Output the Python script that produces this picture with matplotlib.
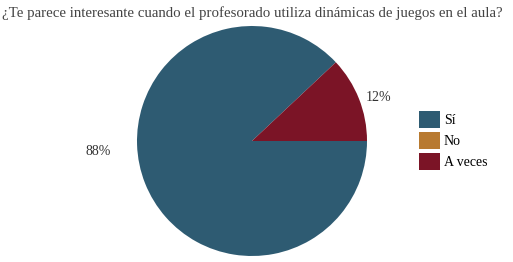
import matplotlib
matplotlib.use("Agg")
import matplotlib.pyplot as plt
from matplotlib.patches import Patch

categories = ["Sí", "No", "A veces"]
values = [88, 0, 12]
colors = ["#2E5B72", "#B87A30", "#7B1426"]

plt.rcParams['font.family'] = ['Liberation Serif', 'DejaVu Serif']

fig = plt.figure(figsize=(5.13, 2.62), dpi=100)
W, H = 513, 262
cx, cy, r = 252, 262 - 141, 115
ax = fig.add_axes([(cx - r) / W, (cy - r) / H, 2 * r / W, 2 * r / H])

wedges, texts = ax.pie(values, colors=colors, startangle=43.2, radius=1.0,
                       wedgeprops=dict(linewidth=0))
ax.set_xlim(-1, 1)
ax.set_ylim(-1, 1)
ax.set_aspect('equal')

total = sum(values)
label_pos = {0: (-1.34, -0.09), 2: (1.10, 0.38)}
for i, v in enumerate(values):
    if v > 0:
        x, y = label_pos[i]
        ax.text(x, y, f"{round(100 * v / total)}%", ha='center', va='center',
                fontsize=10, color='#333333', clip_on=False)

fig.text(0.5 * (5 + 500) / W, 1 - 13 / H,
         "¿Te parece interesante cuando el profesorado utiliza dinámicas de juegos en el aula?",
         ha='center', va='center', fontsize=10.7, color='#444444')

handles = [Patch(facecolor=c, edgecolor='none') for c in colors]
fig.legend(handles, categories, loc='upper left', bbox_to_anchor=(419 / W, 1 - 111 / H),
           frameon=False, fontsize=10, handlelength=1.5, handleheight=1.5,
           handletextpad=0.3, labelspacing=0.3, borderaxespad=0, borderpad=0)

fig.savefig("out.png", dpi=100)
